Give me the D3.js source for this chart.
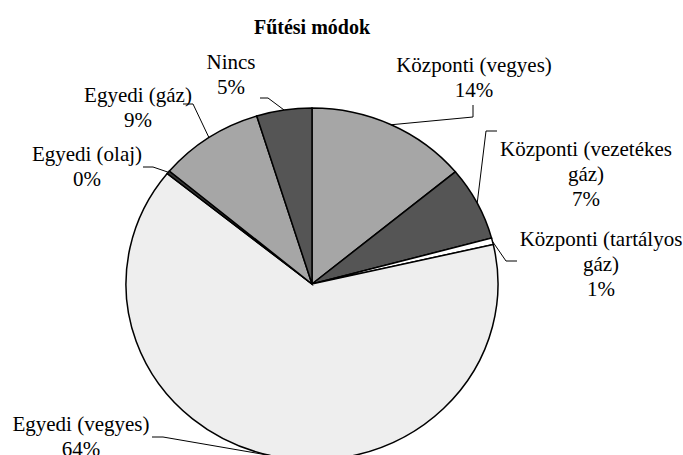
<!DOCTYPE html>
<html lang="hu">
<head>
<meta charset="UTF-8">
<title>Fűtési módok</title>
<script src="https://d3js.org/d3.v7.min.js"></script>
<style>
    body { margin: 0; background: #fff; }
    svg { display: block; }
    .title { font-weight: bold; font-size: 20px; text-anchor: middle; }
    .label { font-size: 21px; text-anchor: middle; fill: #000; }
    .slice { stroke: #000; stroke-width: 1.5px; vector-effect: non-scaling-stroke; }
    .leader { fill: none; stroke: #000; stroke-width: 1px; }
</style>
</head>
<body>
<svg width="683" height="455"></svg>
<script>
    // data, clockwise from 12 o'clock
    var categories = ["Központi (vegyes)", "Központi (vezetékes gáz)", "Központi (tartályos gáz)",
        "Egyedi (vegyes)", "Egyedi (olaj)", "Egyedi (gáz)", "Nincs"];
    var values = [14.0, 6.8, 0.6, 64.4, 0.3, 9.1, 4.8];
    var colors = ["#a6a6a6", "#555555", "#ffffff", "#eeeeee", "#333333", "#a6a6a6", "#555555"];

    // label text lines (category wrapped like the original)
    var labelLines = [
        ["Központi (vegyes)"],
        ["Központi (vezetékes", "gáz)"],
        ["Központi (tartályos", "gáz)"],
        ["Egyedi (vegyes)"],
        ["Egyedi (olaj)"],
        ["Egyedi (gáz)"],
        ["Nincs"]
    ];

    // label layout: centre x, first baseline, and leader elbow points
    var labelPos = [
        {x: 474, y: 72, leader: [[473, 105], [473, 117]]},
        {x: 586, y: 156, leader: [[497, 131], [486, 131]]},
        {x: 601, y: 246, leader: [[517, 261], [506, 261]]},
        {x: 81, y: 431, leader: [[152, 437], [163, 437]]},
        {x: 87, y: 161, leader: [[143, 167], [153, 167]]},
        {x: 138, y: 102, leader: [[183, 104], [193, 104]]},
        {x: 231, y: 69, leader: [[260, 98], [268, 98]]}
    ];

    var W = 683, H = 455;
    var cx = 312, cy = 284, rx = 186, ry = 176;
    var lineH = 25;
    var serif = "'Liberation Serif', 'Times New Roman', Times, 'DejaVu Serif', serif";

    var svg = d3.select("svg");
    svg.append("rect").attr("width", W).attr("height", H).attr("fill", "#fff");

    svg.append("text")
        .attr("class", "title")
        .attr("x", cx)
        .attr("y", 34)
        .style("font-family", serif)
        .text("Fűtési módok");

    var total = d3.sum(values);
    var data = categories.map(function(c, i) { return {name: c, value: values[i], i: i}; });

    var pie = d3.pie().sort(null).value(function(d) { return d.value; });
    var arcs = pie(data);
    var arc = d3.arc().innerRadius(0).outerRadius(rx);

    // pie is slightly squashed vertically in the original
    var g = svg.append("g")
        .attr("transform", "translate(" + cx + "," + cy + ") scale(1," + (ry / rx) + ")");

    g.selectAll(".slice")
        .data(arcs)
        .enter().append("path")
        .attr("class", "slice")
        .attr("d", arc)
        .attr("fill", function(d) { return colors[d.data.i]; });

    function edgePoint(a) {
        return [cx + rx * Math.sin(a), cy - ry * Math.cos(a)];
    }

    // leader lines
    var line = d3.line();
    svg.selectAll(".leader")
        .data(arcs)
        .enter().append("path")
        .attr("class", "leader")
        .attr("d", function(d) {
            var mid = (d.startAngle + d.endAngle) / 2;
            var pts = labelPos[d.data.i].leader.slice();
            pts.push(edgePoint(mid));
            return line(pts);
        });

    // labels
    var labels = svg.selectAll(".label")
        .data(arcs)
        .enter().append("text")
        .attr("class", "label")
        .style("font-family", serif)
        .attr("x", function(d) { return labelPos[d.data.i].x; })
        .attr("y", function(d) { return labelPos[d.data.i].y; });

    labels.each(function(d) {
        var t = d3.select(this);
        var lines = labelLines[d.data.i].concat([Math.round(d.data.value / total * 100) + "%"]);
        lines.forEach(function(s, k) {
            t.append("tspan")
                .attr("x", labelPos[d.data.i].x)
                .attr("dy", k === 0 ? 0 : lineH)
                .text(s);
        });
    });
</script>
</body>
</html>
